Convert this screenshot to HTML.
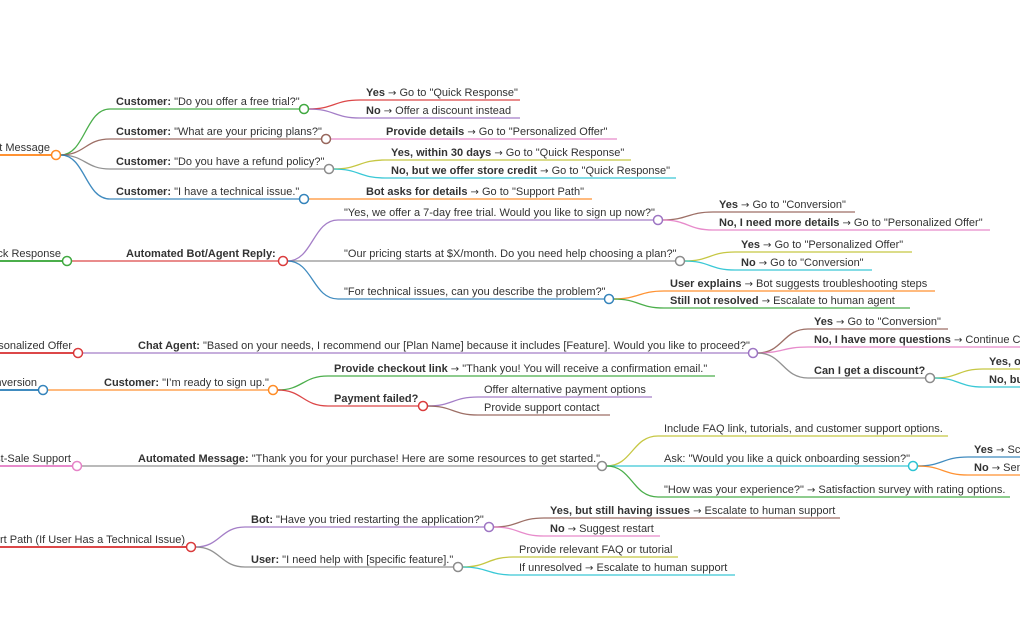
<!DOCTYPE html>
<html><head><meta charset="utf-8"><style>
html,body{margin:0;padding:0;background:#fff;width:1020px;height:622px;overflow:hidden}
svg text{font-family:"Liberation Sans",Arial,sans-serif;font-size:11px;fill:#333}
.ar{font-family:"DejaVu Sans",sans-serif;font-size:10px}
</style></head><body>
<svg id="s" width="1020" height="622" xmlns="http://www.w3.org/2000/svg"></svg>
<script>
const C={blue:"#1f77b4",orange:"#ff7f0e",green:"#2ca02c",red:"#d62728",purple:"#9467bd",brown:"#8c564b",pink:"#e377c2",gray:"#7f7f7f",olive:"#bcbd22",cyan:"#17becf"};
const N=[
["a",null,-10,56,155,"orange","","t Message",1,1],
["a1","a",110,304,109,"green","Customer:",' "Do you offer a free trial?"',1],
["a11","a1",360,520,100,"red","Yes",' → Go to "Quick Response"',0],
["a12","a1",360,520,118,"purple","No",' → Offer a discount instead',0],
["a2","a",110,326,139,"brown","Customer:",' "What are your pricing plans?"',1],
["a21","a2",380,617,139,"pink","Provide details",' → Go to "Personalized Offer"',0],
["a3","a",110,329,169,"gray","Customer:",' "Do you have a refund policy?"',1],
["a31","a3",385,631,160,"olive","Yes, within 30 days",' → Go to "Quick Response"',0],
["a32","a3",385,676,178,"cyan","No, but we offer store credit",' → Go to "Quick Response"',0],
["a4","a",110,304,199,"blue","Customer:",' "I have a technical issue."',1],
["a41","a4",360,592,199,"orange","Bot asks for details",' → Go to "Support Path"',0],
["b",null,-10,67,261,"green","","ck Response",1,1],
["b1","b",120,283,261,"red","Automated Bot/Agent Reply:","",1],
["b11","b1",338,658,220,"purple","",'"Yes, we offer a 7-day free trial. Would you like to sign up now?"',1],
["b111","b11",713,855,212,"brown","Yes",' → Go to "Conversion"',0],
["b112","b11",713,990,230,"pink","No, I need more details",' → Go to "Personalized Offer"',0],
["b12","b1",338,680,261,"gray","",'"Our pricing starts at $X/month. Do you need help choosing a plan?"',1],
["b121","b12",735,912,252,"olive","Yes",' → Go to "Personalized Offer"',0],
["b122","b12",735,872,270,"cyan","No",' → Go to "Conversion"',0],
["b13","b1",338,609,299,"blue","",'"For technical issues, can you describe the problem?"',1],
["b131","b13",664,935,291,"orange","User explains",' → Bot suggests troubleshooting steps',0],
["b132","b13",664,910,308,"green","Still not resolved",' → Escalate to human agent',0],
["c",null,-10,78,353,"red","","sonalized Offer",1,1],
["c1","c",132,753,353,"purple","Chat Agent:",' "Based on your needs, I recommend our [Plan Name] because it includes [Feature]. Would you like to proceed?"',1],
["c11","c1",808,948,329,"brown","Yes",' → Go to "Conversion"',0],
["c12","c1",808,1030,347,"pink","No, I have more questions",' → Continue Conversation',0],
["c13","c1",808,930,378,"gray","Can I get a discount?","",1],
["c131","c13",983,1030,369,"olive","Yes, offer",'',0],
["c132","c13",983,1030,387,"cyan","No, but",'',0],
["d",null,-10,43,390,"blue","","nversion",1,1],
["d1","d",98,273,390,"orange","Customer:",' "I\u2019m ready to sign up."',1],
["d11","d1",328,715,376,"green","Provide checkout link",' → "Thank you! You will receive a confirmation email."',0],
["d12","d1",328,423,406,"red","Payment failed?","",1],
["d121","d12",478,652,397,"purple","",'Offer alternative payment options',0],
["d122","d12",478,610,415,"brown","",'Provide support contact',0],
["e",null,-10,77,466,"pink","","st-Sale Support",1,1],
["e1","e",132,602,466,"gray","Automated Message:",' "Thank you for your purchase! Here are some resources to get started."',1],
["e11","e1",658,948,436,"olive","",'Include FAQ link, tutorials, and customer support options.',0],
["e12","e1",658,913,466,"cyan","",'Ask: "Would you like a quick onboarding session?"',1],
["e121","e12",968,1030,457,"blue","Yes",' → Schedule',0],
["e122","e12",968,1030,475,"orange","No",' → Send',0],
["e13","e1",658,1010,497,"green","",'"How was your experience?" → Satisfaction survey with rating options.',0],
["f",null,-10,191,547,"red","","ort Path (If User Has a Technical Issue)",1,1],
["f1","f",245,489,527,"purple","Bot:",' "Have you tried restarting the application?"',1],
["f11","f1",544,840,518,"brown","Yes, but still having issues",' → Escalate to human support',0],
["f12","f1",544,660,536,"pink","No",' → Suggest restart',0],
["f2","f",245,458,567,"gray","User:",' "I need help with [specific feature]."',1],
["f21","f2",513,678,557,"olive","",'Provide relevant FAQ or tutorial',0],
["f22","f2",513,735,575,"cyan","",'If unresolved → Escalate to human support',0]
];
const M={};N.forEach(n=>M[n[0]]=n);
const esc=s=>s.replace(/&/g,"&amp;").replace(/</g,"&lt;");
const arr=s=>esc(s).split("→").join('</tspan><tspan class="ar">→</tspan><tspan>');
let paths="",lines="",circ="",txt="";
N.forEach(n=>{
 const [id,p,x1,x2,y,col,b,t,c,ae]=n;const cl=C[col];
 const sw=p?1.3:2;
 lines+=`<line x1="${x1}" y1="${y}" x2="${c?x2-4.5:x2}" y2="${y}" stroke="${cl}" stroke-opacity="0.85" stroke-width="${sw}"/>`;
 if(p){const P=M[p];const sx=P[3]+4.5,sy=P[4];const mx=(sx+x1)/2;
  paths+=`<path d="M${sx},${sy} C${mx},${sy} ${mx},${y} ${x1},${y}" fill="none" stroke="${cl}" stroke-opacity="0.85" stroke-width="1.3"/>`;}
 if(c) circ+=`<circle cx="${x2}" cy="${y}" r="4.5" fill="#fff" stroke="${cl}" stroke-opacity="0.9" stroke-width="1.5"/>`;
 const content=(b?`<tspan font-weight="bold">${esc(b)}</tspan>`:"")+`<tspan>${arr(t)}</tspan>`;
 if(ae) txt+=`<text x="${x2-6}" y="${y-4}" text-anchor="end">${content}</text>`;
 else txt+=`<text x="${x1+6}" y="${y-4}" xml:space="preserve">${content}</text>`;
});
document.getElementById("s").innerHTML=paths+lines+circ+txt;
</script>
</body></html>
